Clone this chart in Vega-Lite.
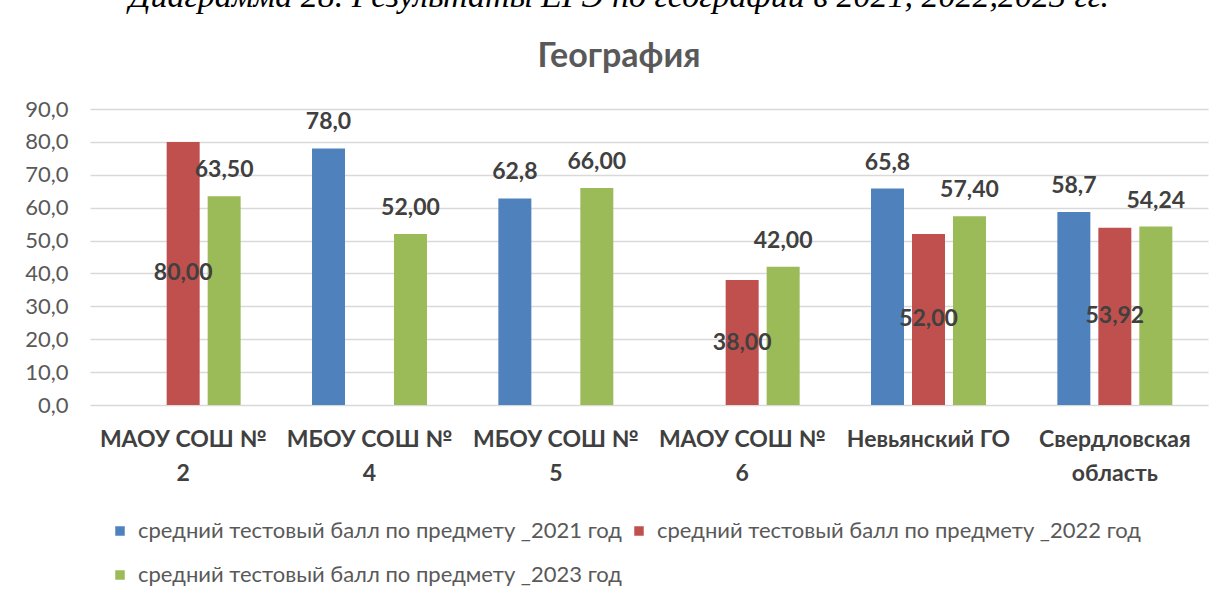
{
  "$schema": "https://vega.github.io/schema/vega-lite/v6.json",
  "autosize": {"type": "none"},
  "width": 1118,
  "height": 296,
  "padding": {"left": 90, "top": 109, "right": 19, "bottom": 194},
  "background": "white",
  "title": {
    "text": "Диаграмма 28. Результаты ЕГЭ по географии в 2021, 2022,2023 гг.",
    "subtitle": "География",
    "anchor": "middle",
    "dx": -30,
    "font": "Liberation Serif",
    "fontStyle": "italic",
    "fontWeight": "normal",
    "fontSize": 34,
    "color": "#000000",
    "subtitleFont": "Lato",
    "subtitleFontWeight": "bold",
    "subtitleFontSize": 34,
    "subtitleColor": "#595959",
    "subtitlePadding": 26,
    "offset": 24
  },
  "config": {
    "locale": {"number": {"decimal": ",", "thousands": " ", "grouping": [3], "currency": ["", ""]}},
    "view": {"stroke": null},
    "font": "Lato"
  },
  "data": {
    "values": [
      {"school": "МАОУ СОШ №|2", "series": "средний тестовый балл по предмету _2022 год", "value": 80.00},
      {"school": "МАОУ СОШ №|2", "series": "средний тестовый  балл по предмету _2023 год", "value": 63.50},
      {"school": "МБОУ СОШ №|4", "series": "средний тестовый балл по предмету _2021 год", "value": 78.0},
      {"school": "МБОУ СОШ №|4", "series": "средний тестовый  балл по предмету _2023 год", "value": 52.00},
      {"school": "МБОУ СОШ №|5", "series": "средний тестовый балл по предмету _2021 год", "value": 62.8},
      {"school": "МБОУ СОШ №|5", "series": "средний тестовый  балл по предмету _2023 год", "value": 66.00},
      {"school": "МАОУ СОШ №|6", "series": "средний тестовый балл по предмету _2022 год", "value": 38.00},
      {"school": "МАОУ СОШ №|6", "series": "средний тестовый  балл по предмету _2023 год", "value": 42.00},
      {"school": "Невьянский ГО", "series": "средний тестовый балл по предмету _2021 год", "value": 65.8},
      {"school": "Невьянский ГО", "series": "средний тестовый балл по предмету _2022 год", "value": 52.00},
      {"school": "Невьянский ГО", "series": "средний тестовый  балл по предмету _2023 год", "value": 57.40},
      {"school": "Свердловская|область", "series": "средний тестовый балл по предмету _2021 год", "value": 58.7},
      {"school": "Свердловская|область", "series": "средний тестовый балл по предмету _2022 год", "value": 53.92},
      {"school": "Свердловская|область", "series": "средний тестовый  балл по предмету _2023 год", "value": 54.24}
    ]
  },
  "encoding": {
    "x": {
      "field": "school",
      "type": "nominal",
      "sort": null,
      "scale": {"paddingInner": 0.383, "paddingOuter": 0.1915},
      "axis": {
        "title": null,
        "labelAngle": 0,
        "labelExpr": "split(datum.value, '|')",
        "labelFont": "Lato",
        "labelFontSize": 23,
        "labelFontWeight": "bold",
        "labelColor": "#404040",
        "labelLineHeight": 34,
        "labelPadding": 23,
        "labelLimit": 0,
        "ticks": false,
        "domain": false
      }
    },
    "xOffset": {
      "field": "series",
      "type": "nominal",
      "scale": {
        "domain": ["средний тестовый балл по предмету _2021 год", "средний тестовый балл по предмету _2022 год", "средний тестовый  балл по предмету _2023 год"],
        "paddingInner": 0.195
      }
    }
  },
  "layer": [
    {
      "mark": {"type": "bar"},
      "encoding": {
        "y": {
          "field": "value",
          "type": "quantitative",
          "scale": {"domain": [0, 90], "nice": false},
          "axis": {
            "title": null,
            "values": [0, 10, 20, 30, 40, 50, 60, 70, 80, 90],
            "format": ".1f",
            "labelFont": "Lato",
            "labelFontSize": 22,
            "labelColor": "#595959",
            "labelPadding": 22,
            "ticks": false,
            "domain": false,
            "gridColor": "#d9d9d9",
            "gridWidth": 1.5
          }
        },
        "color": {
          "field": "series",
          "type": "nominal",
          "scale": {
            "domain": ["средний тестовый балл по предмету _2021 год", "средний тестовый балл по предмету _2022 год", "средний тестовый  балл по предмету _2023 год"],
            "range": ["#4f81bd", "#c0504d", "#9bbb59"]
          },
          "legend": {
            "orient": "none",
            "legendX": 19,
            "legendY": 411,
            "direction": "horizontal",
            "columns": 2,
            "title": null,
            "symbolType": "square",
            "symbolSize": 90,
            "symbolStrokeWidth": 0,
            "labelFont": "Lato",
            "labelFontSize": 22,
            "labelColor": "#595959",
            "labelLimit": 0,
            "columnPadding": 0,
            "rowPadding": 22,
            "labelOffset": 7
          }
        }
      }
    },
    {
      "transform": [{"filter": "datum.series == 'средний тестовый балл по предмету _2021 год'"}],
      "mark": {"type": "text", "dy": -26, "fontSize": 23, "fontWeight": "bold", "color": "#404040", "baseline": "middle"},
      "encoding": {
        "y": {"field": "value", "type": "quantitative", "scale": {"domain": [0, 90], "nice": false}, "axis": null},
        "text": {"field": "value", "type": "quantitative", "format": ".1f"}
      }
    },
    {
      "transform": [{"filter": "datum.series == 'средний тестовый  балл по предмету _2023 год'"}],
      "mark": {"type": "text", "dy": -26, "fontSize": 23, "fontWeight": "bold", "color": "#404040", "baseline": "middle"},
      "encoding": {
        "y": {"field": "value", "type": "quantitative", "scale": {"domain": [0, 90], "nice": false}, "axis": null},
        "text": {"field": "value", "type": "quantitative", "format": ".2f"}
      }
    },
    {
      "transform": [{"filter": "datum.series == 'средний тестовый балл по предмету _2022 год'"}],
      "mark": {"type": "text", "fontSize": 23, "fontWeight": "bold", "color": "#404040", "baseline": "middle"},
      "encoding": {
        "y": {"field": "value", "type": "quantitative", "scale": {"domain": [0, 180], "nice": false}, "axis": null},
        "text": {"field": "value", "type": "quantitative", "format": ".2f"}
      }
    }
  ],
  "resolve": {"scale": {"y": "independent"}}
}
